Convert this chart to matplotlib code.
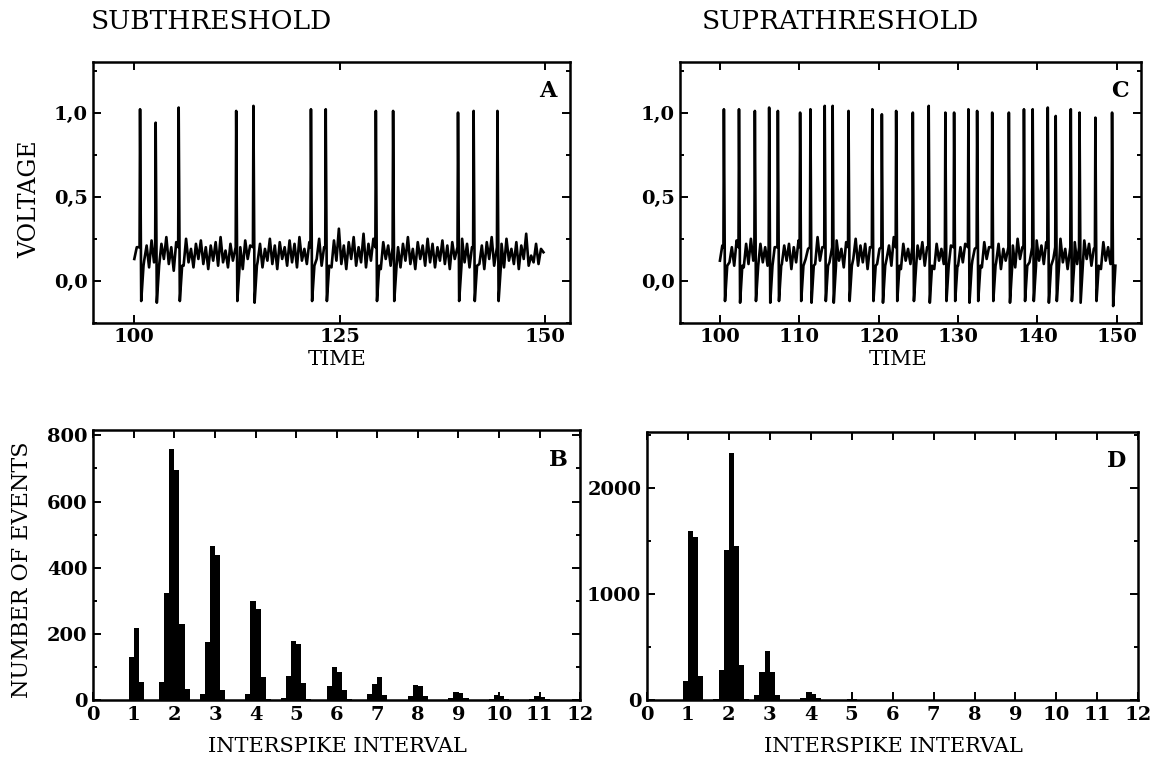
import numpy as np
import matplotlib
matplotlib.use('Agg')
import matplotlib.pyplot as plt
from matplotlib.ticker import MultipleLocator, FixedLocator

plt.rcParams['font.family'] = 'DejaVu Serif'

# --- traces: sub-threshold oscillation read every 0.3 time units ---
base_step = 0.3
a_base = [0.13, 0.20, 0.09, 0.22, 0.12, 0.21, 0.08, 0.24, 0.11, 0.19,
          0.07, 0.22, 0.13, 0.26, 0.10, 0.20, 0.06, 0.23, 0.12, 0.21,
          0.09, 0.25, 0.11, 0.19, 0.08, 0.22, 0.13, 0.24, 0.10, 0.20,
          0.07, 0.21, 0.12, 0.23, 0.09, 0.26, 0.11, 0.18, 0.08, 0.22,
          0.12, 0.25, 0.10, 0.20, 0.07, 0.24, 0.13, 0.21, 0.09, 0.33,
          0.11, 0.22, 0.08, 0.19, 0.12, 0.25, 0.10, 0.21, 0.07, 0.23,
          0.13, 0.20, 0.09, 0.24, 0.11, 0.22, 0.08, 0.26, 0.12, 0.19,
          0.10, 0.23, 0.07, 0.21, 0.13, 0.25, 0.09, 0.20, 0.11, 0.22,
          0.08, 0.24, 0.12, 0.31, 0.10, 0.21, 0.07, 0.23, 0.13, 0.26,
          0.09, 0.20, 0.11, 0.28, 0.08, 0.22, 0.12, 0.25, 0.10, 0.19,
          0.07, 0.23, 0.13, 0.21, 0.09, 0.24, 0.11, 0.20, 0.08, 0.22,
          0.12, 0.26, 0.10, 0.19, 0.07, 0.23, 0.13, 0.21, 0.09, 0.25,
          0.11, 0.22, 0.08, 0.20, 0.12, 0.24, 0.10, 0.21, 0.07, 0.23,
          0.13, 0.19, 0.09, 0.25, 0.11, 0.22, 0.08, 0.20, 0.12, 0.24,
          0.10, 0.21, 0.07, 0.23, 0.13, 0.26, 0.09, 0.20, 0.11, 0.22,
          0.08, 0.25, 0.12, 0.19, 0.10, 0.23, 0.07, 0.21, 0.13, 0.28,
          0.09, 0.15, 0.11, 0.22, 0.10, 0.19, 0.17]
c_base = [0.12, 0.21, 0.08, 0.23, 0.11, 0.20, 0.09, 0.24, 0.12, 0.18,
          0.08, 0.22, 0.10, 0.25, 0.12, 0.19, 0.07, 0.22, 0.11, 0.20,
          0.09, 0.23, 0.13, 0.20, 0.08, 0.24, 0.10, 0.21, 0.12, 0.22,
          0.07, 0.20, 0.11, 0.24, 0.09, 0.21, 0.13, 0.19, 0.08, 0.23,
          0.10, 0.26, 0.12, 0.20, 0.07, 0.22, 0.11, 0.21, 0.09, 0.24,
          0.12, 0.19, 0.08, 0.23, 0.10, 0.20, 0.13, 0.25, 0.09, 0.21,
          0.11, 0.22, 0.07, 0.20, 0.12, 0.24, 0.10, 0.19, 0.08, 0.23,
          0.13, 0.21, 0.09, 0.26, 0.11, 0.20, 0.07, 0.22, 0.12, 0.19,
          0.10, 0.24, 0.08, 0.21, 0.13, 0.23, 0.09, 0.20, 0.11, 0.25,
          0.07, 0.22, 0.12, 0.19, 0.10, 0.23, 0.08, 0.21, 0.13, 0.24,
          0.09, 0.20, 0.11, 0.22, 0.07, 0.25, 0.12, 0.19, 0.10, 0.21,
          0.08, 0.23, 0.13, 0.20, 0.09, 0.24, 0.11, 0.22, 0.07, 0.19,
          0.12, 0.23, 0.10, 0.21, 0.08, 0.25, 0.13, 0.20, 0.09, 0.22,
          0.11, 0.19, 0.07, 0.24, 0.12, 0.21, 0.10, 0.23, 0.08, 0.20,
          0.13, 0.22, 0.09, 0.25, 0.11, 0.19, 0.07, 0.21, 0.12, 0.23,
          0.10, 0.20, 0.08, 0.24, 0.13, 0.22, 0.09, 0.19, 0.11, 0.21,
          0.07, 0.23, 0.12, 0.20, 0.10, 0.06, 0.08]

# spikes: time, peak, trough
a_spike_t = [100.7, 102.6, 105.4, 112.4, 114.5, 121.5, 123.3, 129.4, 131.5, 139.4, 141.3, 144.2]
a_spike_v = [1.02, 0.94, 1.03, 1.01, 1.04, 1.02, 1.02, 1.01, 1.01, 1.00, 1.01, 1.01]
a_trough = [-0.12, -0.13, -0.12, -0.12, -0.13, -0.12, -0.12, -0.12, -0.12, -0.12, -0.12, -0.12]

c_spike_t = [100.5, 102.4, 104.4, 106.2, 107.3, 110.1, 111.4, 113.2, 114.2, 116.2,
             119.2, 120.4, 122.2, 124.3, 126.3, 128.4, 129.5, 131.3, 132.4, 134.3,
             136.4, 138.3, 139.4, 141.3, 142.3, 144.2, 145.3, 147.3, 149.4]
c_spike_v = [1.02, 1.02, 1.01, 1.03, 1.01, 1.00, 1.02, 1.04, 1.04, 1.01,
             1.02, 0.99, 1.01, 1.00, 1.04, 1.00, 1.00, 1.02, 1.01, 1.00,
             1.00, 1.02, 1.02, 1.03, 0.98, 1.02, 1.00, 0.97, 1.00]
c_trough = [-0.12, -0.13, -0.12, -0.13, -0.12, -0.12, -0.13, -0.12, -0.13, -0.12,
            -0.12, -0.13, -0.12, -0.12, -0.13, -0.12, -0.12, -0.13, -0.12, -0.12,
            -0.13, -0.12, -0.12, -0.13, -0.12, -0.12, -0.13, -0.12, -0.15]

# spike shape offsets (time after spike, level)
shape_dt = [-0.06, 0.0, 0.14, 0.42]
shape_pre, shape_post = 0.2, 0.09

# --- histograms: bin left edges and counts, bin width 1/8 ---
bin_w = 0.125
b_left = [0.875, 1.0, 1.125,
          1.625, 1.75, 1.875, 2.0, 2.125, 2.25,
          2.625, 2.75, 2.875, 3.0, 3.125,
          3.75, 3.875, 4.0, 4.125, 4.25,
          4.625, 4.75, 4.875, 5.0, 5.125, 5.25,
          5.75, 5.875, 6.0, 6.125, 6.25,
          6.75, 6.875, 7.0, 7.125,
          7.75, 7.875, 8.0, 8.125,
          8.75, 8.875, 9.0, 9.125,
          9.75, 9.875, 10.0, 10.125,
          10.75, 10.875, 11.0, 11.125]
b_count = [130, 217, 55,
           54, 323, 760, 695, 229, 33,
           20, 175, 465, 440, 30,
           20, 300, 275, 70, 5,
           8, 72, 180, 170, 52, 4,
           42, 100, 85, 30, 4,
           18, 50, 70, 15,
           12, 45, 42, 12,
           6, 25, 22, 8,
           5, 15, 14, 5,
           4, 12, 10, 4]
d_left = [0.875, 1.0, 1.125, 1.25,
          1.625, 1.75, 1.875, 2.0, 2.125, 2.25, 2.375,
          2.625, 2.75, 2.875, 3.0, 3.125,
          3.75, 3.875, 4.0, 4.125,
          4.875, 5.0]
d_count = [180, 1600, 1540, 230,
           10, 290, 1420, 2330, 1450, 330, 10,
           50, 270, 460, 270, 50,
           25, 80, 60, 20,
           10, 8]


def build_trace(base, t0, spk_t, spk_v, trough):
    t = t0 + base_step * np.arange(len(base))
    v = np.array(base, dtype=float)
    keep = np.ones(len(t), dtype=bool)
    for ts in spk_t:
        keep &= ~((t > ts + shape_dt[0] - 0.1) & (t < ts + shape_dt[3] + 0.05))
    tt = list(t[keep])
    vv = list(v[keep])
    for ts, pk, tr in zip(spk_t, spk_v, trough):
        tt += [ts + d for d in shape_dt]
        vv += [shape_pre, pk, tr, shape_post]
    order = np.argsort(tt)
    return np.array(tt)[order], np.array(vv)[order]


def style(ax):
    ax.tick_params(direction='in', which='both', top=True, right=True,
                   labelsize=14, width=1.4, pad=4)
    ax.tick_params(which='major', length=6)
    ax.tick_params(which='minor', length=3)
    for lab in ax.get_xticklabels() + ax.get_yticklabels():
        lab.set_fontweight('bold')
    for s in ax.spines.values():
        s.set_linewidth(1.8)


fig = plt.figure(figsize=(11.51, 7.67), dpi=100)
axA = fig.add_axes([0.081, 0.579, 0.414, 0.340])
axC = fig.add_axes([0.591, 0.579, 0.400, 0.340])
axB = fig.add_axes([0.081, 0.087, 0.423, 0.352])
axD = fig.add_axes([0.562, 0.087, 0.427, 0.350])

tA, vA = build_trace(a_base, 100.0, a_spike_t, a_spike_v, a_trough)
tC, vC = build_trace(c_base, 100.0, c_spike_t, c_spike_v, c_trough)
axA.plot(tA, vA, color='black', lw=1.9)
axC.plot(tC, vC, color='black', lw=1.9)

for ax in (axA, axC):
    ax.set_ylim(-0.25, 1.3)
    ax.yaxis.set_major_locator(FixedLocator([0.0, 0.5, 1.0]))
    ax.yaxis.set_minor_locator(MultipleLocator(0.25))
    ax.set_yticklabels(['0,0', '0,5', '1,0'])
axA.set_xlim(95, 153)
axA.xaxis.set_major_locator(MultipleLocator(25))
axC.set_xlim(95, 153)
axC.xaxis.set_major_locator(MultipleLocator(10))

axB.bar(b_left, b_count, width=bin_w, align='edge', color='black', linewidth=0)
axD.bar(d_left, d_count, width=bin_w, align='edge', color='black', linewidth=0)
axB.set_ylim(0, 815)
axB.yaxis.set_major_locator(MultipleLocator(200))
axB.yaxis.set_minor_locator(MultipleLocator(100))
axD.set_ylim(0, 2530)
axD.yaxis.set_major_locator(MultipleLocator(1000))
axD.yaxis.set_minor_locator(MultipleLocator(500))
for ax in (axB, axD):
    ax.set_xlim(0, 12)
    ax.xaxis.set_major_locator(MultipleLocator(1))

for ax in (axA, axB, axC, axD):
    style(ax)

for ax, letter in zip((axA, axB, axC, axD), 'ABCD'):
    ax.text(0.955, 0.89, letter, transform=ax.transAxes, fontsize=16,
            fontweight='bold', ha='center', va='center')

fig.text(0.184, 0.972, 'SUBTHRESHOLD', fontsize=19, ha='center', va='center')
fig.text(0.730, 0.972, 'SUPRATHRESHOLD', fontsize=19, ha='center', va='center')
fig.text(0.026, 0.74, 'VOLTAGE', fontsize=17, rotation=90, ha='center', va='center')
fig.text(0.293, 0.531, 'TIME', fontsize=15, ha='center', va='center')
fig.text(0.780, 0.531, 'TIME', fontsize=15, ha='center', va='center')
fig.text(0.019, 0.257, 'NUMBER OF EVENTS', fontsize=16, rotation=90, ha='center', va='center')
fig.text(0.293, 0.027, 'INTERSPIKE INTERVAL', fontsize=15, ha='center', va='center')
fig.text(0.776, 0.027, 'INTERSPIKE INTERVAL', fontsize=15, ha='center', va='center')

fig.savefig('out.png', dpi=100)
